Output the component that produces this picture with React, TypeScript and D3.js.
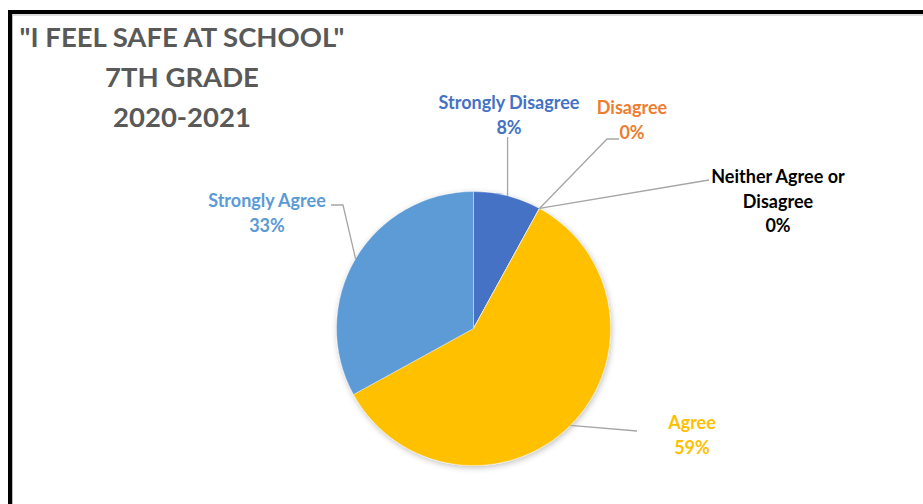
import React from "react";
import * as d3 from "d3";

const categories = ["Strongly Disagree", "Disagree", "Neither Agree or Disagree", "Agree", "Strongly Agree"];
const values = [8, 0, 0, 59, 33];
const percentLabels = ["8%", "0%", "0%", "59%", "33%"];
const labelLines = [
  ["Strongly Disagree"],
  ["Disagree"],
  ["Neither Agree or", "Disagree"],
  ["Agree"],
  ["Strongly Agree"],
];
const sliceColors = ["#4472C4", "#ED7D31", "#A5A5A5", "#FFC000", "#5B9BD5"];
const labelColors = ["#4472C4", "#ED7D31", "#000000", "#FFC000", "#5B9BD5"];
const titleLines = ['"I FEEL SAFE AT SCHOOL"', "7TH GRADE", "2020-2021"];

const W = 923;
const H = 504;
const cx = 473.5;
const cy = 328.5;
const R = 137;

const labelLayout = [
  { x: 509, y: 109, path: (p: [number, number]) => [p, [p[0], 137]] },
  { x: 632, y: 114, path: (p: [number, number]) => [p, [607, 139], [619, 139]] },
  { x: 778, y: 183, path: (p: [number, number]) => [p, [709, 180]] },
  { x: 692, y: 429, path: (p: [number, number]) => [p, [637, 431]] },
  { x: 267, y: 207, path: (p: [number, number]) => [p, [343, 205], [331, 205]] },
];

export default function App() {
  const pie = d3.pie<number>().value((d) => d).sort(null).startAngle(0).endAngle(2 * Math.PI);
  const arcs = pie(values);
  const arcGen = d3.arc<d3.PieArcDatum<number>>().innerRadius(0).outerRadius(R);
  const lineGen = d3.line();
  const font = "Lato, 'Open Sans', sans-serif";

  return (
    <div style={{ position: "absolute", left: 0, top: 0, width: W, height: H, background: "#fff" }}>
      <svg width={W} height={H} style={{ display: "block" }}>
        <defs>
          <filter id="shadow" x="-20%" y="-20%" width="140%" height="140%">
            <feGaussianBlur in="SourceAlpha" stdDeviation="3" />
            <feOffset dx="1" dy="2" result="b" />
            <feComponentTransfer>
              <feFuncA type="linear" slope="0.25" />
            </feComponentTransfer>
            <feMerge>
              <feMergeNode />
              <feMergeNode in="SourceGraphic" />
            </feMerge>
          </filter>
        </defs>
        <rect x={0} y={0} width={W} height={H} fill="#fff" />
        <line x1={8} y1={12} x2={W} y2={12} stroke="#000" strokeWidth={4} />
        <line x1={8} y1={15} x2={W} y2={15} stroke="#bbb" strokeWidth={1} />
        <line x1={10} y1={10} x2={10} y2={H} stroke="#000" strokeWidth={4} />
        <line x1={12.5} y1={14} x2={12.5} y2={H} stroke="#bbb" strokeWidth={1} />

        {titleLines.map((t, i) => (
          <text
            key={i}
            x={182}
            y={47 + i * 40}
            textAnchor="middle"
            fontFamily={font}
            fontWeight={700}
            fontSize={27.5}
            fill="#595959"
          >
            {t}
          </text>
        ))}

        <g transform={`translate(${cx},${cy})`} filter="url(#shadow)">
          {arcs.map((a, i) => (
            <path key={i} d={arcGen(a) || ""} fill={sliceColors[i]} stroke="#fff" strokeWidth={0.6} strokeOpacity={0.6} />
          ))}
        </g>

        {arcs.map((a, i) => {
          const mid = (a.startAngle + a.endAngle) / 2;
          const p: [number, number] = [cx + R * Math.sin(mid), cy - R * Math.cos(mid)];
          const pts = labelLayout[i].path(p) as [number, number][];
          return <path key={i} d={lineGen(pts) || ""} fill="none" stroke="#A6A6A6" strokeWidth={1.3} />;
        })}

        {categories.map((c, i) => {
          const lines = [...labelLines[i], percentLabels[i]];
          return (
            <text
              key={c}
              textAnchor="middle"
              fontFamily={font}
              fontWeight={700}
              fontSize={18}
              fill={labelColors[i]}
            >
              {lines.map((l, j) => (
                <tspan key={j} x={labelLayout[i].x} y={labelLayout[i].y + j * 24.5}>
                  {l}
                </tspan>
              ))}
            </text>
          );
        })}
      </svg>
    </div>
  );
}
